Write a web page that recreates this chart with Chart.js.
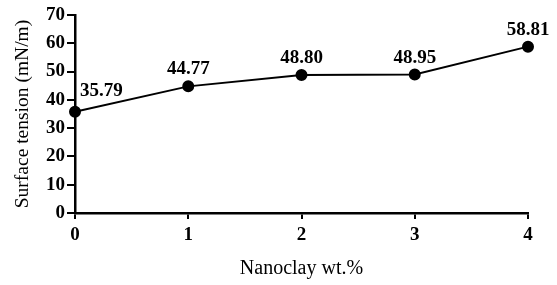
<!DOCTYPE html>
<html>
<head>
<meta charset="utf-8">
<script src="https://cdn.jsdelivr.net/npm/chart.js@4.4.0/dist/chart.umd.min.js"></script>
<style>
html,body{margin:0;padding:0;background:#fff;}
#wrap{width:557px;height:285px;position:relative;}
</style>
</head>
<body>
<div id="wrap"><canvas id="c"></canvas></div>
<script>
const categories = ['0', '1', '2', '3', '4'];
const surfaceTension = [35.79, 44.77, 48.80, 48.95, 58.81];
const valueLabels = ['35.79', '44.77', '48.80', '48.95', '58.81'];
const yTicks = [0, 10, 20, 30, 40, 50, 60, 70];
const yTitle = 'Surface tension (mN/m)';

const FONT = '"Liberation Serif", "Times New Roman", serif';

const labelPlugin = {
  id: 'valueLabels',
  afterDatasetsDraw(chart) {
    const ctx = chart.ctx;
    const meta = chart.getDatasetMeta(0);
    ctx.save();
    ctx.font = 'bold 19px ' + FONT;
    ctx.fillStyle = '#000';
    ctx.textBaseline = 'alphabetic';
    meta.data.forEach((pt, i) => {
      if (i === 0) {
        ctx.textAlign = 'left';
        ctx.fillText(valueLabels[i], pt.x + 5, pt.y - 16);
      } else {
        ctx.textAlign = 'center';
        ctx.fillText(valueLabels[i], pt.x, pt.y - 12);
      }
    });
    // y-axis title
    const ys = chart.scales.y;
    ctx.translate(23, (ys.top + ys.bottom) / 2);
    ctx.rotate(-Math.PI / 2);
    ctx.font = '19.5px ' + FONT;
    ctx.textAlign = 'center';
    ctx.textBaseline = 'middle';
    ctx.fillText(yTitle, 0, 0);
    ctx.restore();
  }
};

new Chart(document.getElementById('c'), {
  type: 'line',
  data: {
    labels: categories,
    datasets: [{
      data: surfaceTension,
      borderColor: '#000',
      backgroundColor: '#000',
      borderWidth: 2,
      pointRadius: 5,
      pointHoverRadius: 5,
      pointBackgroundColor: '#000',
      pointBorderColor: '#000',
      tension: 0,
      clip: false
    }]
  },
  options: {
    responsive: true,
    maintainAspectRatio: false,
    animation: false,
    layout: { padding: { top: 15, right: 29, left: 0, bottom: 0 } },
    plugins: { legend: { display: false }, tooltip: { enabled: false } },
    scales: {
      x: {
        offset: false,
        grid: { drawOnChartArea: false, drawTicks: true, tickLength: 6, color: '#000', lineWidth: 2 },
        border: { display: true, color: '#000', width: 2.5 },
        ticks: { color: '#000', font: { family: FONT, size: 19, weight: 'bold' }, padding: 5, maxRotation: 0 },
        title: { display: true, text: 'Nanoclay wt.%', color: '#000', font: { family: FONT, size: 20 }, padding: { top: 12 } },
        afterFit(s) { s.height = 72; }
      },
      y: {
        min: 0, max: 70,
        afterBuildTicks(s) { s.ticks = yTicks.map(v => ({ value: v })); },
        grid: { drawOnChartArea: false, drawTicks: true, tickLength: 8, color: '#000', lineWidth: 2 },
        border: { display: true, color: '#000', width: 2.5 },
        ticks: { color: '#000', font: { family: FONT, size: 19, weight: 'bold' }, padding: 2 },
        title: { display: false },
        afterFit(s) { s.width = 75; }
      }
    }
  },
  plugins: [labelPlugin]
});
</script>
</body>
</html>
